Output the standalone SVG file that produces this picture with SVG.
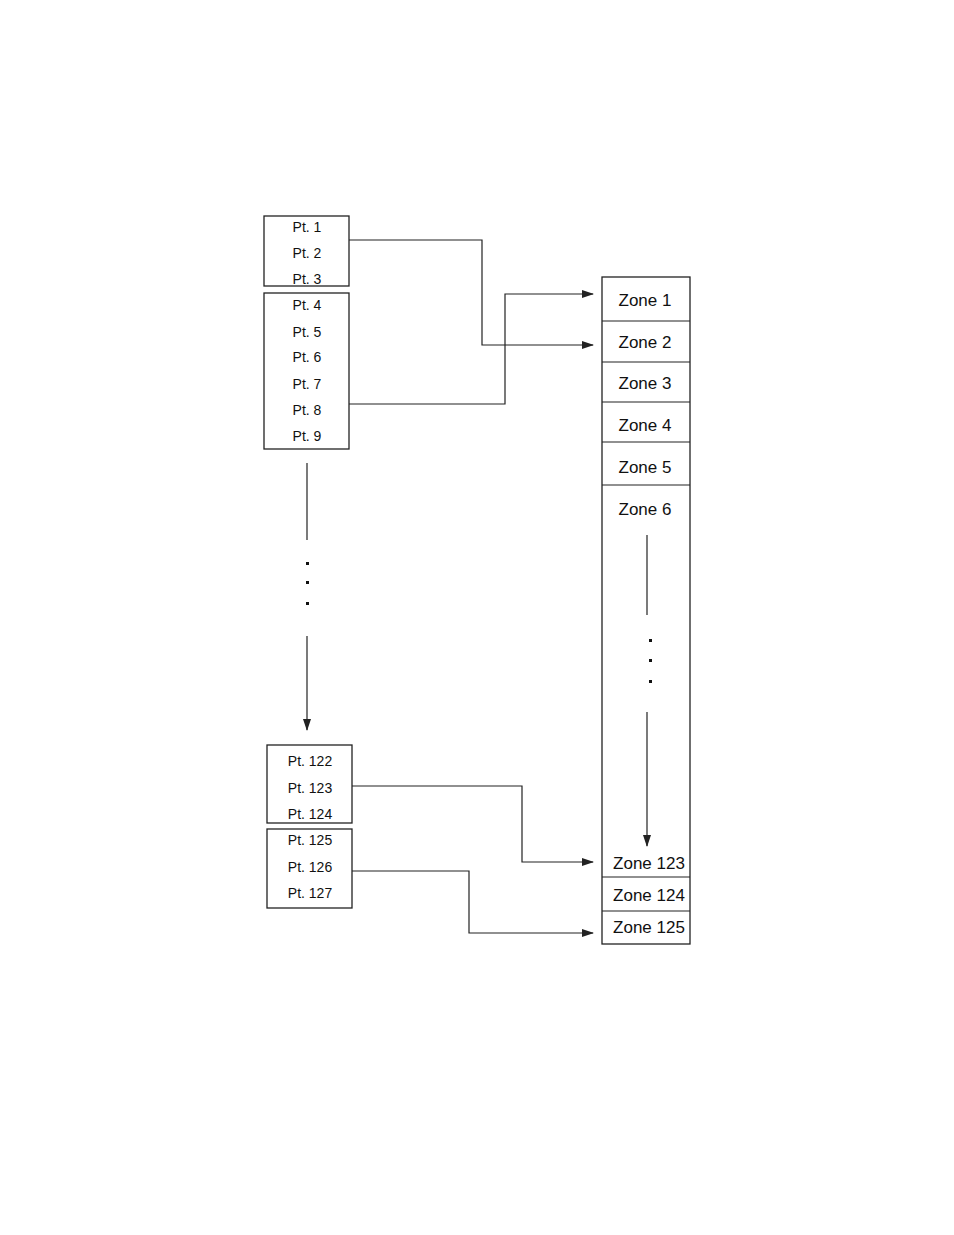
<svg xmlns="http://www.w3.org/2000/svg" width="954" height="1235" viewBox="0 0 954 1235">
<style>
rect{fill:#fff;stroke:#222;stroke-width:1.3}
.d{stroke:#222;stroke-width:1.2}
text{font-family:"Liberation Sans",Arial,sans-serif;fill:#111}
.p{font-size:14px;text-anchor:middle}
.z{font-size:17px;text-anchor:middle}
path.c{fill:none;stroke:#222;stroke-width:1.2}
</style>
<defs><marker id="a" markerWidth="12" markerHeight="8" refX="11" refY="4" orient="auto" markerUnits="userSpaceOnUse"><path d="M0,0L12,4L0,8z" fill="#222"/></marker></defs>
<rect width="954" height="1235" style="fill:#fff;stroke:none"/>
<g id="pts1"><rect x="264" y="216" width="85" height="70"/>
<text class="p" x="307" y="232">Pt. 1</text><text class="p" x="307" y="258">Pt. 2</text><text class="p" x="307" y="284">Pt. 3</text></g>
<g id="pts2"><rect x="264" y="293" width="85" height="156"/>
<text class="p" x="307" y="310">Pt. 4</text><text class="p" x="307" y="337">Pt. 5</text><text class="p" x="307" y="362">Pt. 6</text><text class="p" x="307" y="389">Pt. 7</text><text class="p" x="307" y="415">Pt. 8</text><text class="p" x="307" y="441">Pt. 9</text></g>
<g id="pts3"><rect x="267" y="745" width="85" height="78"/>
<text class="p" x="310" y="766">Pt. 122</text><text class="p" x="310" y="793">Pt. 123</text><text class="p" x="310" y="819">Pt. 124</text></g>
<g id="pts4"><rect x="267" y="829" width="85" height="79"/>
<text class="p" x="310" y="845">Pt. 125</text><text class="p" x="310" y="872">Pt. 126</text><text class="p" x="310" y="898">Pt. 127</text></g>
<g id="zones"><rect x="602" y="277" width="88" height="667"/>
<line class="d" x1="602" y1="321" x2="690" y2="321"/><line class="d" x1="602" y1="362" x2="690" y2="362"/><line class="d" x1="602" y1="402" x2="690" y2="402"/><line class="d" x1="602" y1="442" x2="690" y2="442"/><line class="d" x1="602" y1="485" x2="690" y2="485"/><line class="d" x1="602" y1="877" x2="690" y2="877"/><line class="d" x1="602" y1="911" x2="690" y2="911"/>
<text class="z" x="645" y="306">Zone 1</text><text class="z" x="645" y="348">Zone 2</text><text class="z" x="645" y="389">Zone 3</text><text class="z" x="645" y="431">Zone 4</text><text class="z" x="645" y="473">Zone 5</text><text class="z" x="645" y="515">Zone 6</text>
<text class="z" x="649" y="869">Zone 123</text><text class="z" x="649" y="901">Zone 124</text><text class="z" x="649" y="933">Zone 125</text>
<line class="d" x1="647" y1="535" x2="647" y2="615"/>
<rect x="649" y="639" width="3" height="3" style="fill:#111;stroke:none"/><rect x="649" y="659" width="3" height="3" style="fill:#111;stroke:none"/><rect x="649" y="680" width="3" height="3" style="fill:#111;stroke:none"/>
<path class="c" d="M647,712V846" marker-end="url(#a)"/></g>
<g id="connectors">
<path class="c" d="M349,240H482V345H593" marker-end="url(#a)"/>
<path class="c" d="M349,404H505V294H593" marker-end="url(#a)"/>
<path class="c" d="M352,786H522V862H593" marker-end="url(#a)"/>
<path class="c" d="M352,871H469V933H593" marker-end="url(#a)"/>
<line class="d" x1="307" y1="463" x2="307" y2="540"/>
<rect x="306" y="562" width="3" height="3" style="fill:#111;stroke:none"/><rect x="306" y="581" width="3" height="3" style="fill:#111;stroke:none"/><rect x="306" y="602" width="3" height="3" style="fill:#111;stroke:none"/>
<path class="c" d="M307,636V730" marker-end="url(#a)"/>
</g>
</svg>
